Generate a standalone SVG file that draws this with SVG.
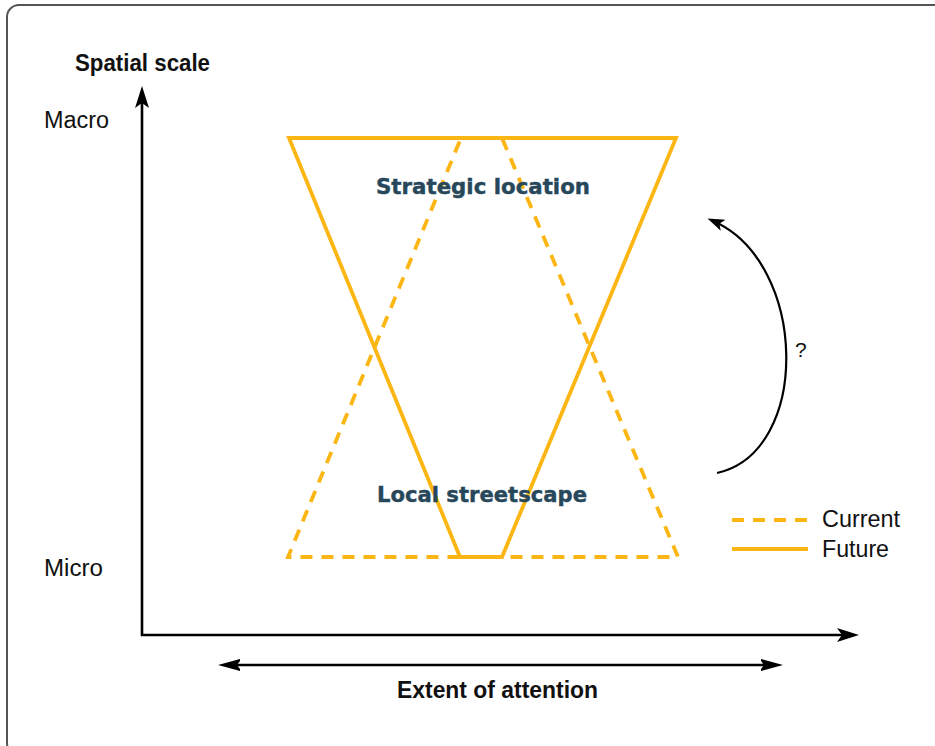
<svg xmlns="http://www.w3.org/2000/svg" width="935" height="746" viewBox="0 0 935 746">
<style>
.frame{fill:#fff;stroke:#555;stroke-width:2}
.axis{fill:none;stroke:#000;stroke-width:2.6}
.future{fill:none;stroke:#FBB614;stroke-width:3.8;stroke-linejoin:miter}
.current{fill:none;stroke:#FBB614;stroke-width:3.8;stroke-dasharray:12 9}
.lbl{font-family:"Liberation Sans",Arial,sans-serif;font-size:23px;fill:#111}
.bold{font-weight:bold}
.zone{font-family:"DejaVu Sans","Liberation Sans",sans-serif;font-weight:bold;font-size:21px;fill:#27475a;stroke:#27475a;stroke-width:0.4}
</style>
<defs>
<marker id="ah" viewBox="-14 -8 26 16" markerWidth="26" markerHeight="16" refX="0" refY="0" orient="auto" markerUnits="userSpaceOnUse">
<path d="M10,0 L-12,-7 L-7,0 L-12,7 Z" fill="#000"/>
</marker>
<marker id="ahs" viewBox="-12 -7 22 14" markerWidth="22" markerHeight="14" refX="0" refY="0" orient="auto" markerUnits="userSpaceOnUse">
<path d="M6,0 L-11,-6 L-7,0 L-11,6 Z" fill="#000"/>
</marker>
<marker id="ahsr" viewBox="-12 -7 22 14" markerWidth="22" markerHeight="14" refX="0" refY="0" orient="auto-start-reverse" markerUnits="userSpaceOnUse">
<path d="M10,0 L-14,-6.5 L-9,0 L-14,6.5 Z" fill="#000"/>
</marker>
</defs>
<rect class="frame" x="7" y="5" width="940" height="750" rx="12"/>
<g id="connectors">
<path class="axis" d="M142,636 L142,96" marker-end="url(#ah)"/>
<path class="axis" d="M141,635 L849,635" marker-end="url(#ah)"/>
<path class="axis" d="M228,665 L773,665" marker-start="url(#ahsr)" marker-end="url(#ahsr)"/>
<path fill="none" stroke="#000" stroke-width="2.2" d="M717,473 C812,452 808,262 713,221" marker-end="url(#ahs)"/>
</g>
<g id="current">
<path class="current" d="M461,138 L502,138 L678,557 L288,557 Z"/>
</g>
<g id="future">
<path class="future" d="M289,138 L676,138 L502,557 L460,557 Z"/>
</g>
<g id="labels">
<text class="lbl bold" x="75" y="71" textLength="135" lengthAdjust="spacingAndGlyphs">Spatial scale</text>
<text class="lbl" x="44" y="128" textLength="65" lengthAdjust="spacingAndGlyphs">Macro</text>
<text class="lbl" x="44" y="576" textLength="59" lengthAdjust="spacingAndGlyphs">Micro</text>
<text class="lbl bold" x="397" y="698" textLength="201" lengthAdjust="spacingAndGlyphs">Extent of attention</text>
<text class="lbl" x="795" y="357" style="font-size:21px">?</text>
</g>
<g id="strategic">
<text class="zone" x="376" y="194" textLength="214" lengthAdjust="spacingAndGlyphs">Strategic location</text>
</g>
<g id="local">
<text class="zone" x="377" y="502" textLength="210" lengthAdjust="spacingAndGlyphs">Local streetscape</text>
</g>
<g id="legend">
<line class="current" x1="732" y1="520" x2="808" y2="520"/>
<line class="future" x1="732" y1="549" x2="808" y2="549"/>
<text class="lbl" x="822" y="527" textLength="78" lengthAdjust="spacingAndGlyphs">Current</text>
<text class="lbl" x="822" y="557" textLength="67" lengthAdjust="spacingAndGlyphs">Future</text>
</g>
</svg>
